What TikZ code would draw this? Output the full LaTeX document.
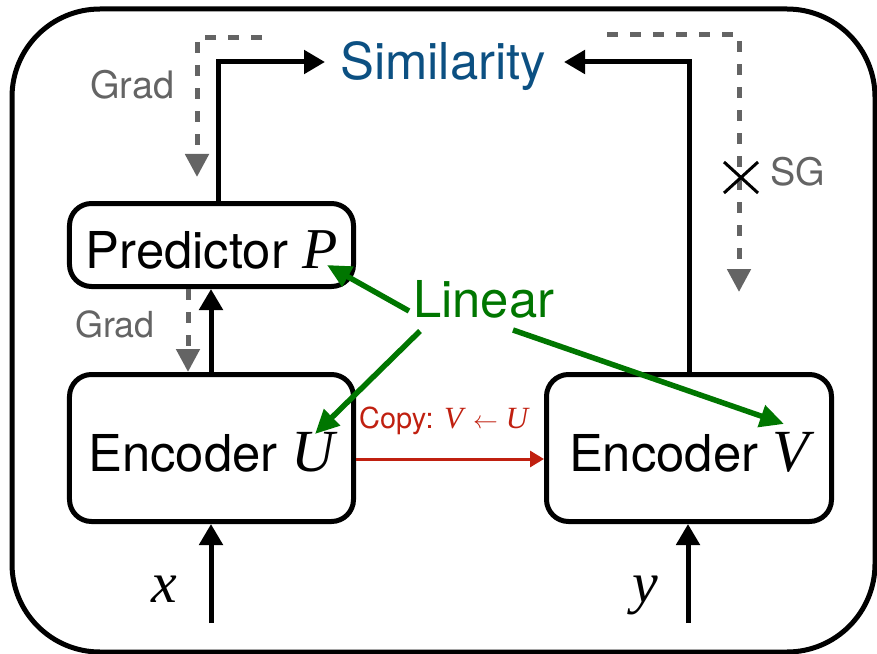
\documentclass[tikz,border=0pt]{standalone}
\usepackage{fontspec}
\setmainfont{TeX Gyre Heros}
\newfontfamily\tmsfont{Liberation Serif}
\usetikzlibrary{arrows.meta}
\definecolor{simblue}{RGB}{12,80,130}
\definecolor{lingreen}{RGB}{0,118,0}
\definecolor{gradgray}{RGB}{100,100,100}
\definecolor{copyred}{RGB}{192,32,16}
% italic serif letter for variables, with its own size
\newcommand{\mvar}[2][58]{{\fontsize{#1}{#1}\selectfont\tmsfont\itshape #2}}
\newcommand{\fsz}[1]{\fontsize{#1}{#1}\selectfont}
\begin{document}
\begin{tikzpicture}[x=1bp,y=-1bp,
  box/.style={draw, line width=5bp, rounded corners=22bp, inner sep=0pt,
    text height=46bp, text depth=0pt, font=\fsz{51}},
  flow/.style={line width=5bp, -{Triangle[length=21bp,width=23bp]}},
  grad/.style={draw=gradgray, line width=5bp, dash pattern=on 11bp off 12bp,
    -{Triangle[length=23bp,width=23bp]}, gradgray},
  lin/.style={draw=lingreen, line width=5.5bp, -{Triangle[length=24bp,width=22bp]}, lingreen},
  copyarrow/.style={draw=copyred, line width=3bp, -{Triangle[length=14bp,width=16bp]}, copyred},
  lbl/.style={inner sep=0pt, anchor=base west}
]
\useasboundingbox (0,0) rectangle (877,654);

% outer frame
\draw[line width=5bp, rounded corners=88bp] (12,9) rectangle (875,652);

% blocks
\node[box, minimum width=284bp, minimum height=83bp]  (pred) at (211.5,245) {Predictor \mvar{P}};
\node[box, minimum width=284bp, minimum height=147bp] (encU) at (211.5,448) {Encoder \mvar[60]{U}};
\node[box, minimum width=285bp, minimum height=147bp] (encV) at (689,448)   {Encoder \mvar[60]{V}};

% labels
\node[lbl, text=simblue, font=\fsz{51}] (sim) at (340,80) {Similarity};
\node[lbl, text=lingreen, font=\fsz{51}] (linear) at (413,317) {Linear};
\node[lbl, text=gradgray, font=\fsz{38}] (grad1) at (90,99) {Grad};
\node[lbl, text=gradgray, font=\fsz{36}] (grad2) at (75,337) {Grad};
\node[lbl, text=gradgray, font=\fsz{38}] (sgl) at (770,185) {SG};
\node[lbl, text=copyred, font=\fsz{29}] (copy) at (359,428)
  {Copy: \mvar[31]{V}\hspace{10bp}{\fsz{33}$\leftarrow$}\hspace{8bp}\mvar[31]{U}};
\node[lbl] (xlab) at (151,602) {\mvar{x}};
\node[lbl] (ylab) at (632,602) {\mvar{y}};

% anchor points
\coordinate (xin) at (211,623);
\coordinate (yin) at (688,623);
\coordinate (simL) at (325,62);
\coordinate (simR) at (564,62);
\coordinate (g1s) at (262,38);
\coordinate (g1e) at (197,177);
\coordinate (g3s) at (607,35);
\coordinate (g3e) at (739,292);
\coordinate (sg) at (741,177.5);
\coordinate (lp) at (409,311);
\coordinate (lu) at (420,331);
\coordinate (lv) at (513,330);
\coordinate (tp) at (327,265);
\coordinate (tu) at (315,434);
\coordinate (tv) at (784,424);

% forward pass
\draw[flow] (xin) -- (xin |- encU.south);
\draw[flow] (yin) -- (yin |- encV.south);
\draw[flow] (encU.north -| xin) -- (pred.south -| xin);
\draw[flow] ([xshift=6.5bp]pred.north) |- (simL);
\draw[flow] (encV.north) |- (simR);

% gradient paths
\draw[grad] (g1s) -| (g1e);
\draw[grad] ([xshift=-23.5bp]pred.south) -- ([xshift=-23.5bp]encU.north);
\draw[grad] (g3s) -| (g3e);
\draw[line width=3bp] ([shift={(-17,-15.5)}]sg) -- ([shift={(17,15.5)}]sg)
                      ([shift={(-17,15.5)}]sg) -- ([shift={(17,-15.5)}]sg);

% linear arrows
\draw[lin] (lp) -- (tp);
\draw[lin] (lu) -- (tu);
\draw[lin] (lv) -- (tv);

% weight copy
\draw[copyarrow] ([yshift=-11bp]encU.east) -- ([yshift=-11bp]encV.west);
\end{tikzpicture}
\end{document}
